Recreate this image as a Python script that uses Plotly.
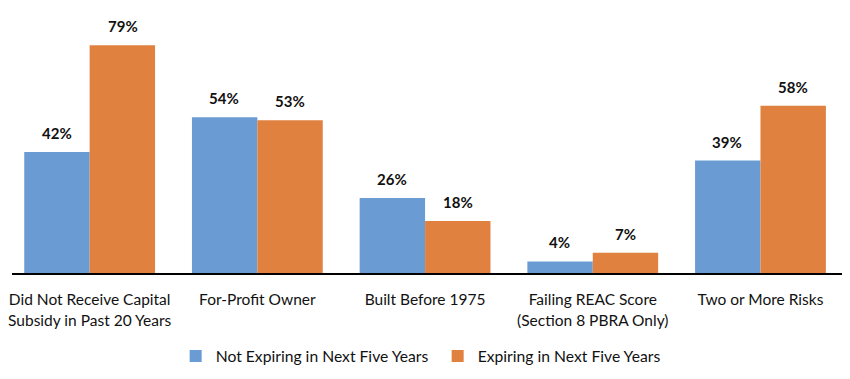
import plotly.graph_objects as go

categories = ["Did Not Receive Capital<br>Subsidy in Past 20 Years", "For-Profit Owner",
              "Built Before 1975", "Failing REAC Score<br>(Section 8 PBRA Only)", "Two or More Risks"]
not_expiring = [42, 54, 26, 4, 39]
expiring = [79, 53, 18, 7, 58]
series_names = ["Not Expiring in Next Five Years", "Expiring in Next Five Years"]
colors = ["#6A9BD3", "#E0813F"]

FONT = "Lato"
fig = go.Figure()
for i, (name, vals, col) in enumerate(zip(series_names, [not_expiring, expiring], colors)):
    fig.add_trace(go.Bar(x=categories, y=vals, name=name, marker_color=col,
                         marker_line_width=0, offsetgroup=str(i)))

# value labels above bars
for i, vals in enumerate([not_expiring, expiring]):
    for c, v in zip(categories, vals):
        fig.add_annotation(x=c, y=v, text=f"<b>{v}%</b>", showarrow=False,
                           xshift=(-1 if i == 0 else 1) * 33, yshift=19, yanchor="middle",
                           font=dict(family=FONT, size=15, color="#111"))

fig.update_layout(
    width=842, height=371,
    margin=dict(l=0, r=5, t=20, b=106),
    plot_bgcolor="white", paper_bgcolor="white",
    barmode="group", bargap=0.22, bargroupgap=0,
    font=dict(family=FONT, size=15.5, color="#111"),
    showlegend=True,
    legend=dict(orientation="h", x=0.511, xanchor="center", y=-0.34, yanchor="middle",
                font=dict(family=FONT, size=15.7, color="#111"),
                entrywidth=217, entrywidthmode="pixels",
                traceorder="normal"),
)
fig.update_xaxes(showline=True, linecolor="black", linewidth=1.6, ticks="outside",
                 ticklen=12, tickcolor="rgba(0,0,0,0)", range=[-0.463, 4.504],
                 tickfont=dict(family=FONT, size=15.5, color="#111"))
fig.update_yaxes(range=[0, 85], visible=False, showgrid=False)
fig.write_html("out.html")
